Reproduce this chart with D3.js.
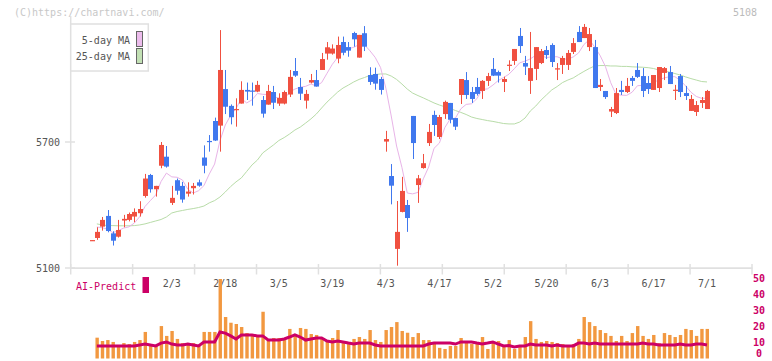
<!DOCTYPE html>
<html><head><meta charset="utf-8">
<script src="https://cdn.jsdelivr.net/npm/d3@7"></script>
<style>
body{margin:0;background:#fff}
svg{display:block}
text{font-family:"DejaVu Sans Mono","Liberation Mono",monospace;font-size:10px}
</style>
</head><body>
<svg id="c" width="772" height="361"></svg>
<script>
// ---- data ----
const opens=[5230,5243,5297,5348,5265,5249,5326,5329,5345,5361,5443,5543,5475,5587,5630,5410,5518,5491,5454,5480,
5508,5626,5705,5800,5778,5952,5872,5853,5883,5948,5945,5940,5900,5878,5938,5883,5883,5926,6038,5962,
5897,5983,5995,6043,6121,6121,6097,6176,6152,6219,6102,6218,6019,6024,6000,5702,5538,5191,5367,5400,
5824,5495,5576,5695,5829,5724,5833,5886,5814,5924,5995,5938,5962,5943,5991,6048,6033,5986,6064,6086,
6205,6076,5991,6048,6076,6138,6162,6045,6067,6067,6129,6224,6195,6152,6152,5962,5943,5845,5838,5948,
5938,6005,6043,6014,5981,5948,5957,6029,6033,5945,6014,5933,5848,5843,5886,5857];
const highs=[5233,5294,5343,5376,5275,5329,5353,5364,5384,5418,5548,5548,5491,5700,5681,5491,5526,5510,5508,5505,
5521,5684,5733,5816,6233,6043,5879,5908,5989,5983,5983,5991,5919,5972,5967,5932,5945,6043,6100,6005,
5948,6024,6043,6124,6176,6165,6202,6202,6176,6225,6210,6252,6056,6054,6010,5753,5595,5419,5534,5424,
5824,5543,5643,5786,5849,5829,5897,5886,5814,6000,6033,5962,6005,5995,6029,6100,6040,6011,6089,6143,
6243,6110,6224,6152,6143,6157,6170,6076,6110,6138,6195,6252,6262,6243,6186,6000,5943,5867,5957,5991,
6005,6014,6076,6052,6014,6019,6057,6057,6062,5972,6024,5967,5924,5895,5914,5948];
const lows=[5230,5234,5278,5270,5207,5245,5294,5322,5318,5345,5435,5459,5440,5575,5578,5400,5449,5411,5440,5450,
5487,5551,5654,5705,5654,5833,5784,5773,5883,5900,5873,5937,5816,5878,5857,5872,5879,5914,6010,5900,
5859,5979,5964,6043,6092,6116,6075,6113,6106,6154,6102,6133,5972,5949,5926,5654,5403,5111,5365,5272,
5619,5410,5573,5681,5729,5714,5810,5789,5757,5881,5905,5886,5921,5905,5967,6014,5983,5938,6038,6067,
6124,6019,5929,5995,6071,6095,6057,5995,6024,6043,6119,6176,6195,6133,5957,5943,5905,5819,5833,5924,
5933,5967,6005,5914,5929,5948,5938,5995,5976,5900,5914,5900,5848,5824,5862,5857];
const closes=[5233,5272,5329,5276,5230,5281,5334,5357,5367,5381,5526,5475,5491,5686,5583,5434,5468,5426,5464,5491,
5492,5587,5700,5707,6043,5868,5818,5857,5948,5940,5940,5972,5835,5943,5887,5910,5938,6010,6016,5930,
5929,5995,5964,6095,6151,6145,6162,6125,6135,6189,6210,6154,5986,5978,5948,5714,5492,5272,5467,5338,
5695,5527,5599,5748,5781,5819,5891,5806,5773,6000,5924,5905,5929,5991,6014,6016,6016,6000,6068,6143,
6157,6059,6052,6152,6133,6114,6081,6051,6100,6124,6171,6176,6248,6214,5957,5972,5914,5857,5933,5938,
5967,5991,6010,5943,5952,6019,6057,6052,5976,5949,5938,5919,5905,5876,5900,5943];
const ma5=[null,5295,5292,5285,5268,5278,5290,5296,5314,5344,5393,5421,5448,5512,5552,5534,5532,5519,5475,5457,
5468,5492,5547,5595,5706,5781,5827,5859,5907,5886,5901,5931,5927,5926,5915,5909,5903,5938,5952,5961,
5965,5976,5967,5983,6027,6070,6103,6136,6144,6151,6164,6163,6135,6103,6055,5956,5824,5681,5579,5457,
5453,5460,5525,5581,5670,5695,5768,5809,5814,5858,5879,5882,5906,5950,5953,5971,5993,6007,6023,6049,
6077,6085,6096,6113,6111,6102,6106,6106,6096,6094,6105,6124,6164,6187,6153,6113,6061,5983,5927,5923,
5922,5937,5968,5970,5973,5983,5996,6005,6011,6011,5994,5967,5937,5917,5908,5909];
const ma25=[null,5310,5305,5302,5302,5301,5301,5301,5302,5305,5310,5317,5324,5331,5343,5362,5369,5374,5379,5383,
5388,5395,5410,5421,5438,5462,5488,5510,5529,5560,5591,5614,5648,5667,5686,5707,5721,5738,5757,5771,
5790,5810,5833,5862,5890,5914,5938,5957,5971,5986,5998,6007,6017,6021,6024,6024,6014,5998,5976,5952,
5933,5921,5910,5898,5886,5876,5868,5860,5850,5841,5831,5819,5812,5807,5802,5798,5793,5788,5786,5786,
5795,5814,5848,5871,5900,5924,5948,5964,5983,5995,6005,6021,6036,6050,6062,6064,6064,6062,6062,6060,
6060,6058,6057,6056,6054,6050,6043,6038,6033,6026,6019,6010,6002,5995,5988,5986];
const volume=[null,13.1,11.0,11.6,10.4,8.5,9.7,9.1,10.4,11.6,16.7,8.5,7.9,20.4,14.2,17.3,12.3,9.7,9.7,9.7,
8.5,16.7,16.7,16.7,50,26.1,22.5,21.7,19.8,16.0,15.0,14.0,29.4,11.2,12.9,12.9,12.3,18.6,14.8,19.2,
18.6,15.4,14.8,12.9,11.0,12.9,17.9,9.7,9.1,12.3,13.5,12.3,17.9,11.6,10.4,17.9,19.8,22.9,17.3,16.2,
13.5,16.0,11.6,11.6,10.4,6.7,6.0,7.9,7.9,12.9,10.4,9.1,10.4,13.5,6.0,10.4,11.0,7.9,11.6,6.0,
8.5,13.5,23.5,12.3,10.4,11.0,10.4,9.7,9.1,7.9,9.1,12.3,26.1,22.9,20.4,17.9,16.0,14.2,11.0,14.2,
11.0,16.0,20.4,14.2,12.3,14.8,9.7,16.0,14.8,13.5,14.8,18.6,17.9,14.2,18.6,18.6];
const aiPredict=[null,7.9,7.9,7.9,7.9,7.9,7.9,7.9,7.9,8.5,9.1,8.5,7.9,9.7,10.4,9.1,8.5,8.5,9.1,8.5,
7.9,10.4,10.4,10.4,16.7,16.0,14.2,12.3,14.8,14.8,14.8,14.2,14.2,11.6,11.6,11.6,12.3,13.5,14.8,13.5,
11.6,12.3,12.9,12.9,11.0,10.4,11.0,10.4,9.7,9.1,9.7,9.7,9.7,8.5,7.9,7.9,7.9,7.9,7.9,7.9,
7.9,7.9,7.9,9.1,9.7,9.7,9.7,9.7,9.1,10.4,10.4,10.4,9.7,9.1,9.7,10.4,9.1,7.9,8.2,7.3,
7.9,7.9,9.1,8.5,8.5,8.5,7.9,8.5,7.9,7.9,7.9,9.7,9.7,9.1,9.7,9.1,9.1,9.1,9.1,9.1,
9.1,9.1,9.1,9.7,9.1,9.1,8.5,8.5,8.5,8.5,9.1,8.5,8.5,9.1,9.1,8.5];
const dateLabels=['2/3','2/18','3/5','3/19','4/3','4/17','5/2','5/20','6/3','6/17','7/1'];
const dateIndex=[15,25,35,45,55,65,75,85,95,105,115];
const priceTicks=[5100,5700];
const volTicks=[0,10,20,30,40,50];
const axisTicks=d3.range(12);

// ---- chart ----
const svg=d3.select('#c');
const n=closes.length;
const x=d3.scaleLinear().domain([0,n-1]).range([91.5,707]);
const y=d3.scaleLinear().domain([5100,6300]).range([268,16]);
const yv=d3.scaleLinear().domain([0,50]).range([358.5,279]);
const xt=d3.scaleLinear().domain([0,11]).range([70.7,752]);
const idx=d3.range(n);
const RED='#f05040', BLUE='#4078ee', GRID='#e0e0e0', TXT='#555', MAG='#cc0066';

svg.append('text').attr('x',14).attr('y',16).attr('fill','#c8c8c8').text('(C)https://chartnavi.com/');
svg.append('text').attr('x',757).attr('y',16).attr('text-anchor','end').attr('fill','#bbb').text('5108');

// axes
svg.append('line').attr('x1',70.7).attr('x2',70.7).attr('y1',16).attr('y2',268).attr('stroke',GRID).attr('stroke-width',1.5);
svg.append('line').attr('x1',70).attr('x2',752.5).attr('y1',268.2).attr('y2',268.2).attr('stroke',GRID).attr('stroke-width',1.8);
svg.selectAll('.xt').data(axisTicks).join('line')
  .attr('x1',d=>xt(d)).attr('x2',d=>xt(d)).attr('y1',264).attr('y2',274.5).attr('stroke',GRID).attr('stroke-width',1.5);
svg.selectAll('.yt').data(priceTicks).join('line')
  .attr('x1',65).attr('x2',75).attr('y1',d=>y(d)).attr('y2',d=>y(d)).attr('stroke',GRID).attr('stroke-width',1.5);
svg.selectAll('.yl').data(priceTicks).join('text')
  .attr('x',60).attr('y',d=>y(d)).attr('dy','0.35em').attr('text-anchor','end').attr('fill',TXT).text(d=>d);
svg.selectAll('.dl').data(dateLabels).join('text')
  .attr('x',(d,i)=>x(dateIndex[i])).attr('y',283).attr('dy','0.35em').attr('text-anchor','middle').attr('fill',TXT).text(d=>d);

// moving averages
const line=(arr,sc)=>d3.line().defined(i=>arr[i]!=null).x(i=>x(i)).y(i=>sc(arr[i]))(idx);
svg.append('path').attr('d',line(ma25,y)).attr('fill','none').attr('stroke','#b8dca8').attr('stroke-width',1);
svg.append('path').attr('d',line(ma5,y)).attr('fill','none').attr('stroke','#e8b4e8').attr('stroke-width',1);

// candles
const g=svg.append('g');
g.selectAll('.w').data(idx).join('line')
  .attr('x1',i=>Math.round(x(i))+0.5).attr('x2',i=>Math.round(x(i))+0.5)
  .attr('y1',i=>y(highs[i])).attr('y2',i=>y(lows[i]))
  .attr('stroke',i=>closes[i]>=opens[i]?RED:BLUE).attr('stroke-width',1);
g.selectAll('.b').data(idx).join('rect')
  .attr('x',i=>Math.round(x(i))-2).attr('width',5)
  .attr('y',i=>y(Math.max(opens[i],closes[i])))
  .attr('height',i=>Math.max(1.2,Math.abs(y(opens[i])-y(closes[i]))))
  .attr('fill',i=>closes[i]>=opens[i]?RED:BLUE);

// legend
svg.append('rect').attr('x',70.7).attr('y',24).attr('width',77.6).attr('height',47).attr('fill','#fff').attr('stroke',GRID).attr('stroke-width',1.5);
svg.append('text').attr('x',130).attr('y',40).attr('dy','0.35em').attr('text-anchor','end').attr('fill',TXT).text('5-day MA');
svg.append('text').attr('x',130).attr('y',56.5).attr('dy','0.35em').attr('text-anchor','end').attr('fill',TXT).text('25-day MA');
svg.append('rect').attr('x',136.5).attr('y',31.5).attr('width',6).attr('height',15).attr('fill','#ecbcec').attr('stroke','#666');
svg.append('rect').attr('x',136.5).attr('y',48.5).attr('width',6).attr('height',15).attr('fill','#c2e0b4').attr('stroke','#666');

// volume panel
svg.selectAll('.v').data(idx.filter(i=>volume[i]!=null)).join('rect')
  .attr('x',i=>x(i)-1.4).attr('width',3.4)
  .attr('y',i=>yv(volume[i])).attr('height',i=>yv(0)-yv(volume[i]))
  .attr('fill','#f29840');
svg.append('path').attr('d',line(aiPredict,yv)).attr('fill','none').attr('stroke',MAG).attr('stroke-width',3);
svg.selectAll('.vl').data(volTicks).join('text')
  .attr('x',759).attr('y',d=>Math.min(yv(d)+3,357)).attr('text-anchor','middle')
  .attr('fill',MAG).attr('font-weight','bold').text(d=>d);
svg.append('text').attr('x',76).attr('y',286).attr('dy','0.35em').attr('fill',MAG).text('AI-Predict');
svg.append('rect').attr('x',142.5).attr('y',277).attr('width',6.5).attr('height',16).attr('fill',MAG);
</script>
</body></html>
